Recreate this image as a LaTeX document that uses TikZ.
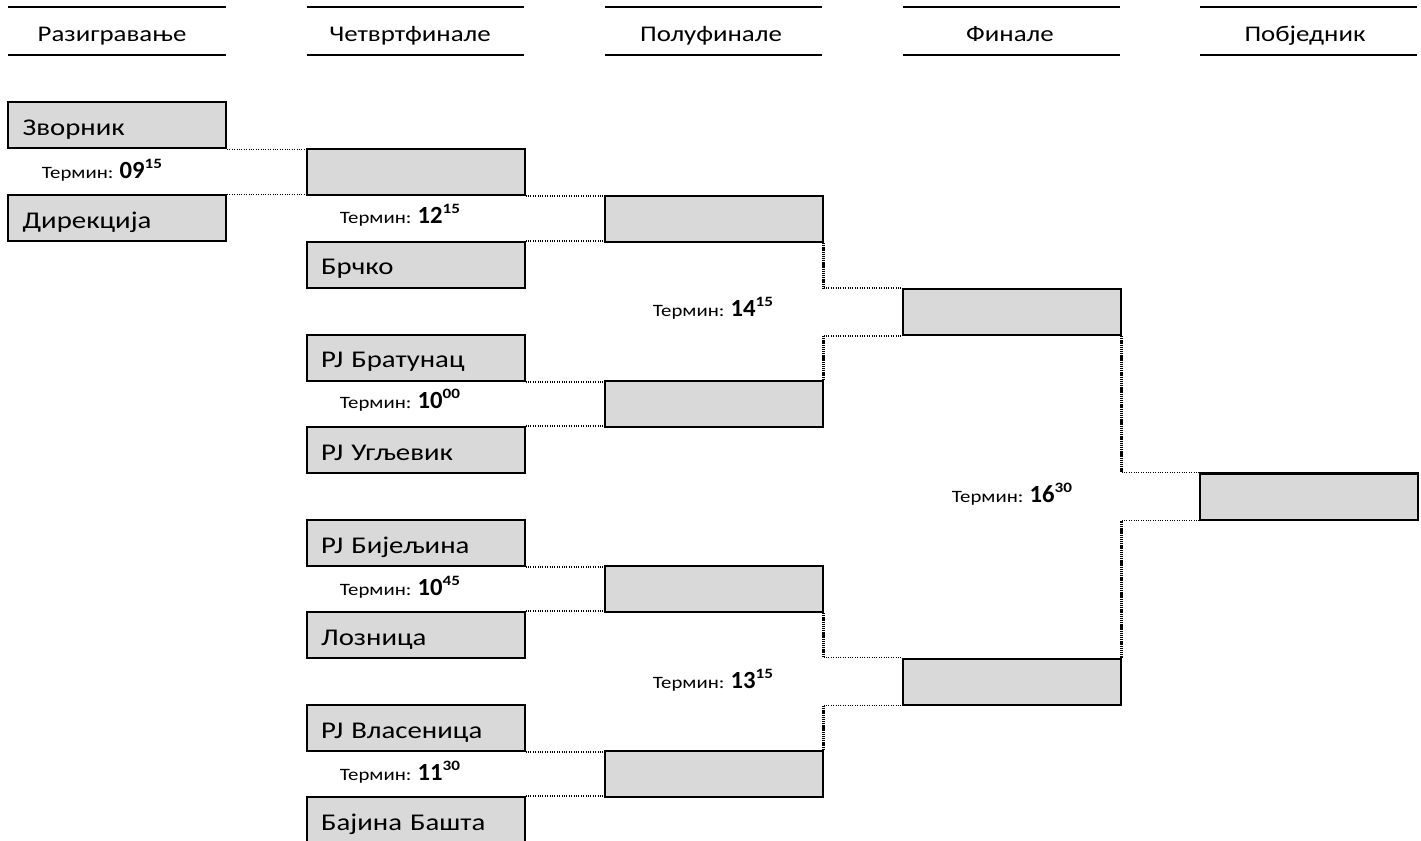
\documentclass[tikz,border=0pt]{standalone}
\usepackage{fontspec}
\setmainfont{Carlito}[FakeStretch=1.2]
\newfontfamily\numfont{Carlito}
\definecolor{boxgray}{HTML}{D9D9D9}
\begin{document}
\begin{tikzpicture}[x=0.75pt,y=-0.75pt,
  box/.style={draw, line width=1.5pt, fill=boxgray, minimum width=163.5pt, minimum height=34.5pt,
    inner xsep=11pt, inner ysep=0pt, text width=141.5pt, align=left, text height=16pt, text depth=1pt,
    font=\fontsize{18}{20}\selectfont},
  conn/.style={line width=0.8pt, densely dotted},
  vconn/.style={line width=1.6pt, dash pattern=on 1pt off 0.6pt},
  hdr/.style={anchor=base, inner sep=0pt, font=\fontsize{16.8}{18}\selectfont},
  thinrule/.style={line width=1.1pt},
  thickrule/.style={line width=2.2pt},
  termin/.style={anchor=base, inner sep=0pt}]
\useasboundingbox (0,0) rectangle (1421,841);
\newcommand{\termin}[2]{{\fontsize{13}{15}\selectfont Термин: }{\numfont\fontsize{18.5}{20}\selectfont\bfseries #1}\raisebox{7.5pt}{\fontsize{10.7}{12}\selectfont\bfseries #2}}
% headers
\coordinate (h1a) at (8,7); \coordinate (h1b) at (226,7);
\coordinate (h1c) at (8,55); \coordinate (h1d) at (226,55);
\draw[thinrule] (h1a) -- (h1b); \draw[thinrule] (h1c) -- (h1d);
\node[hdr] (hd1) at (112,42) {Разигравање};
\coordinate (h2a) at (307,7); \coordinate (h2b) at (524,7);
\coordinate (h2c) at (307,55); \coordinate (h2d) at (524,55);
\draw[thickrule] (h2a) -- (h2b); \draw[thinrule] (h2c) -- (h2d);
\node[hdr] (hd2) at (410,42) {Четвртфинале};
\coordinate (h3a) at (605,7); \coordinate (h3b) at (822,7);
\coordinate (h3c) at (605,55); \coordinate (h3d) at (822,55);
\draw[thickrule] (h3a) -- (h3b); \draw[thickrule] (h3c) -- (h3d);
\node[hdr] (hd3) at (711,42) {Полуфинале};
\coordinate (h4a) at (903,7); \coordinate (h4b) at (1120,7);
\coordinate (h4c) at (903,55); \coordinate (h4d) at (1120,55);
\draw[thickrule] (h4a) -- (h4b); \draw[thickrule] (h4c) -- (h4d);
\node[hdr] (hd4) at (1010,42) {Финале};
\coordinate (h5a) at (1200,7); \coordinate (h5b) at (1417,7);
\coordinate (h5c) at (1200,55); \coordinate (h5d) at (1417,55);
\draw[line width=1.5pt] (h5a) -- (h5b); \draw[thinrule] (h5c) -- (h5d);
\node[hdr] (hd5) at (1305,42) {Побједник};
% boxes
\node[box] (zv) at (117,125.5) {Зворник};
\node[box] (di) at (117,218.5) {Дирекција};
\node[box] (q1) at (415.5,172) {};
\node[box] (br) at (415.5,265) {Брчко};
\node[box] (bt) at (415.5,358) {PJ Братунац};
\node[box] (ug) at (415.5,450) {PJ Угљевик};
\node[box] (bi) at (415.5,543) {PJ Бијељина};
\node[box] (lo) at (415.5,635) {Лозница};
\node[box] (vl) at (415.5,728) {PJ Власеница};
\node[box] (bb) at (415.5,820) {Бајина Башта};
\node[box] (s1) at (713.5,219) {};
\node[box] (s2) at (713.5,404) {};
\node[box] (s3) at (713.5,589) {};
\node[box] (s4) at (713.5,774) {};
\node[box] (f1) at (1011.5,312) {};
\node[box] (f2) at (1011.5,681.5) {};
\node[box] (w) at (1308.5,496.5) {};
% connectors
\draw[conn] (zv.south east) -- (zv.south east -| q1.west);
\draw[conn] (di.north east) -- (di.north east -| q1.west);
\draw[conn] (q1.south east) -- (q1.south east -| s1.west);
\draw[conn] (br.north east) -- (br.north east -| s1.west);
\draw[conn] (bt.south east) -- (bt.south east -| s2.west);
\draw[conn] (ug.north east) -- (ug.north east -| s2.west);
\draw[conn] (bi.south east) -- (bi.south east -| s3.west);
\draw[conn] (lo.north east) -- (lo.north east -| s3.west);
\draw[conn] (vl.south east) -- (vl.south east -| s4.west);
\draw[conn] (bb.north east) -- (bb.north east -| s4.west);
\draw[vconn] (s1.south east) -- (s1.south east |- f1.north west);
\draw[conn] (s1.south east |- f1.north west) -- (f1.north west);
\draw[vconn] (s2.north east) -- (s2.north east |- f1.south west);
\draw[conn] (s2.north east |- f1.south west) -- (f1.south west);
\draw[vconn] (s3.south east) -- (s3.south east |- f2.north west);
\draw[conn] (s3.south east |- f2.north west) -- (f2.north west);
\draw[vconn] (s4.north east) -- (s4.north east |- f2.south west);
\draw[conn] (s4.north east |- f2.south west) -- (f2.south west);
\draw[vconn] (f1.south east) -- (f1.south east |- w.north west);
\draw[conn] (f1.south east |- w.north west) -- (w.north west);
\draw[vconn] (f2.north east) -- (f2.north east |- w.south west);
\draw[conn] (f2.north east |- w.south west) -- (w.south west);
% times
\node[termin] (t1) at (102,179) {\termin{09}{15}};
\node[termin] (t2) at (400,224) {\termin{12}{15}};
\node[termin] (t3) at (713,317) {\termin{14}{15}};
\node[termin] (t4) at (400,409) {\termin{10}{00}};
\node[termin] (t5) at (1012,503) {\termin{16}{30}};
\node[termin] (t6) at (400,595) {\termin{10}{45}};
\node[termin] (t7) at (713,688) {\termin{13}{15}};
\node[termin] (t8) at (400,780) {\termin{11}{30}};
\end{tikzpicture}
\end{document}
